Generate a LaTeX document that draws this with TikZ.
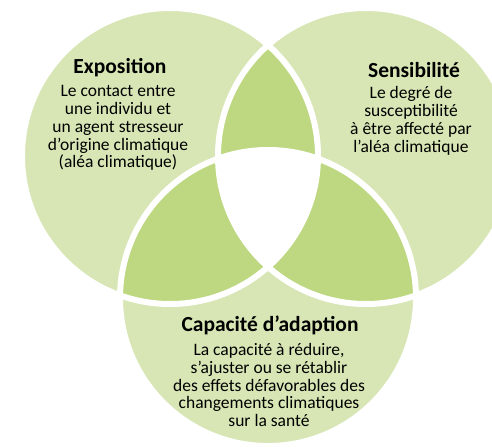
\documentclass[tikz,border=0pt]{standalone}
\usepackage{fontspec}
\setmainfont{Carlito}
\definecolor{lightgreen}{RGB}{215,230,180}
\definecolor{midgreen}{RGB}{189,216,128}

\begin{document}
\begin{tikzpicture}[x=1pt,y=-1pt,
    title/.style={font=\bfseries\fontsize{21.5}{24}\selectfont},
    body/.style={align=center,font=\fontsize{17.5}{17.8}\selectfont},
    ring/.style={draw=white,line width=6pt}]
  \useasboundingbox (0,0) rectangle (492,447);
  \def\rad{148pt}
  \coordinate (expo) at (170,156);
  \coordinate (sens) at (366,156);
  \coordinate (capa) at (268,298);
  % circles
  \fill[lightgreen] (expo) circle[radius=\rad];
  \fill[lightgreen] (sens) circle[radius=\rad];
  \fill[lightgreen] (capa) circle[radius=\rad];
  % overlaps
  \begin{scope}
    \clip (expo) circle[radius=\rad];
    \fill[midgreen] (sens) circle[radius=\rad];
    \fill[midgreen] (capa) circle[radius=\rad];
  \end{scope}
  \begin{scope}
    \clip (sens) circle[radius=\rad];
    \fill[midgreen] (capa) circle[radius=\rad];
  \end{scope}
  \begin{scope}
    \clip (expo) circle[radius=\rad];
    \clip (sens) circle[radius=\rad];
    \fill[white] (capa) circle[radius=\rad];
  \end{scope}
  \draw[ring] (expo) circle[radius=\rad];
  \draw[ring] (sens) circle[radius=\rad];
  \draw[ring] (capa) circle[radius=\rad];
  % texts
  \node[title] (expo_title) at (120,68) {Exposition};
  \node[body] (expo_text) at (118,128) {Le contact entre\\une individu et\\un agent stresseur\\d’origine climatique\\(aléa climatique)};
  \node[title] (sens_title) at (414,70) {Sensibilité};
  \node[body] (sens_text) at (411,121) {Le degré de\\susceptibilité\\à être affecté par\\l’aléa climatique};
  \node[title] (capa_title) at (270,325) {Capacité d’adaption};
  \node[body] (capa_text) at (269,385) {La capacité à réduire,\\s’ajuster ou se rétablir\\des effets défavorables des\\changements climatiques\\sur la santé};
\end{tikzpicture}
\end{document}
